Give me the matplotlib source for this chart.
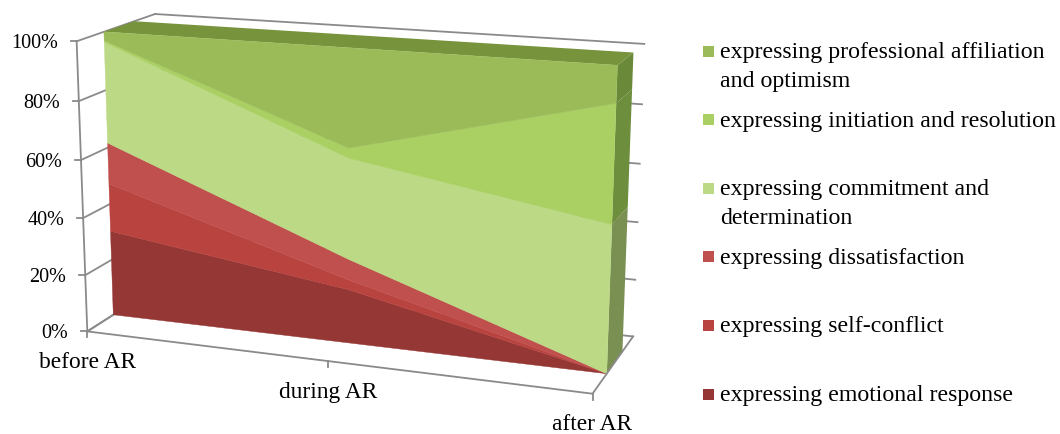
import numpy as np
import matplotlib
matplotlib.use("Agg")
import matplotlib.pyplot as plt
from matplotlib.patches import Polygon, Rectangle

plt.rcParams['font.family'] = ['Liberation Serif', 'DejaVu Serif']

# data (percent of each category, stacked to 100%)
categories = ["before AR", "during AR", "after AR"]
series_names = ["expressing emotional response",
                "expressing self-conflict",
                "expressing dissatisfaction",
                "expressing commitment and\ndetermination",
                "expressing initiation and resolution",
                "expressing professional affiliation\nand optimism"]
emotional = [30.3, 18.6, 0.0]
self_conflict = [16.9, 3.4, 0.0]
dissatisfaction = [14.4, 7.1, 0.0]
commitment = [34.9, 34.4, 49.4]
initiation = [0.5, 3.4, 38.7]
professional = [3.0, 33.1, 11.9]
y_ticks = [0, 20, 40, 60, 80, 100]

front_colors = ["#953735", "#B9433F", "#C0504D", "#BCD985", "#AACF62", "#9BBB59"]
side_colors = ["#6E2826", "#883230", "#8D3B39", "#7A8F52", "#6D8E3C", "#6A8A3A"]
top_color = "#77933C"
line_color = "#8A8A8A"

# ---- perspective of the 3d box (x: category 0..2, y: share 0..1, z: depth 0..1)
A_FRONT, A_BACK = 0.33, 0.72   # depth of the area slab inside the box
calib = [((0, 0, 0), (89, 332)), ((0, 1, 0), (77, 42)), ((1, 0, 0), (329, 364)),
         ((2, 0, 0), (593, 393)), ((0, 1, 1), (157, 15)), ((2, 1, 1), (645, 45)),
         ((2, 0, 1), (633, 337)),
         ((0, 1, A_FRONT), (103, 32)), ((0, 0, A_FRONT), (112, 315)),
         ((2, 0, A_FRONT), (607, 375)), ((2, 1, A_FRONT), (617, 67)),
         ((1, 0, A_FRONT), (347, 345)),
         ((0, 1, A_BACK), (133, 23)), ((2, 1, A_BACK), (633, 53))]


def fit_camera(pairs):
    im = np.array([p[1] for p in pairs], float)
    c = im.mean(0)
    s = im.std()
    rows = []
    for (X, Y, Z), (u, v) in zip([p[0] for p in pairs], (im - c) / s):
        q = [X, Y, Z, 1.0]
        rows.append(q + [0] * 4 + [-u * t for t in q])
        rows.append([0] * 4 + q + [-v * t for t in q])
    _, _, vt = np.linalg.svd(np.array(rows))
    return vt[-1].reshape(3, 4), c, s


P, cen, scl = fit_camera(calib)


def proj(X, Y, Z):
    X, Y, Z = np.broadcast_arrays(np.asarray(X, float), np.asarray(Y, float), np.asarray(Z, float))
    h = P @ np.vstack([X.ravel(), Y.ravel(), Z.ravel(), np.ones(X.size)])
    return np.column_stack([h[0] / h[2], h[1] / h[2]]) * scl + cen


fig = plt.figure(figsize=(10.6, 4.35), dpi=100)
ax = fig.add_axes([0, 0, 1, 1])
ax.set_xlim(0, 1060)
ax.set_ylim(435, 0)
ax.axis("off")

xs = np.arange(len(categories))
vals = np.array([emotional, self_conflict, dissatisfaction, commitment, initiation, professional])
cum = np.vstack([np.zeros(len(categories)), np.cumsum(vals, axis=0) / vals.sum(axis=0)])
lw = 1.3

# walls: gridlines on side wall and back wall
for t in y_ticks:
    y = t / 100
    ax.plot(*proj([0, 0], [y, y], [0, 1]).T, color=line_color, lw=lw, zorder=1)
    ax.plot(*proj([0, 2], [y, y], [1, 1]).T, color=line_color, lw=lw, zorder=1)
    p = proj(0, y, 0)[0]
    ax.plot([p[0] - 6, p[0]], [p[1], p[1]], color=line_color, lw=lw, zorder=1)
    ax.text(p[0] - 19, p[1] + 1, f"{t}%", ha="right", va="center", fontsize=14.5)
ax.plot(*proj([0, 0], [0, 1], [0, 0]).T, color=line_color, lw=lw, zorder=1)
ax.plot(*proj([0, 0], [0, 0], [0, 1]).T, color=line_color, lw=lw, zorder=1)

# area slab: top, right side and front face
top = np.vstack([proj(xs, 1, A_FRONT), proj(xs[::-1], 1, A_BACK)])
ax.add_patch(Polygon(top, closed=True, fc=top_color, ec="none", zorder=2))
for i in range(len(series_names)):
    lo, hi = cum[i], cum[i + 1]
    side = proj([2, 2, 2, 2], [lo[-1], hi[-1], hi[-1], lo[-1]],
                [A_FRONT, A_FRONT, A_BACK, A_BACK])
    ax.add_patch(Polygon(side, closed=True, fc=side_colors[i], ec="none", zorder=2))
    front = np.vstack([proj(xs, hi, A_FRONT), proj(xs[::-1], lo[::-1], A_FRONT)])
    ax.add_patch(Polygon(front, closed=True, fc=front_colors[i], ec=front_colors[i],
                         lw=0.3, zorder=3))

# floor edges in front
ax.plot(*proj([0, 2], [0, 0], [0, 0]).T, color=line_color, lw=lw, zorder=4)
ax.plot(*proj([2, 2], [0, 0], [0, 1]).T, color=line_color, lw=lw, zorder=4)
for x, name in zip(xs, categories):
    p = proj(x, 0, 0)[0]
    ax.plot([p[0], p[0]], [p[1], p[1] + 6], color=line_color, lw=lw, zorder=4)
    ax.text(p[0], p[1] + 30, name, ha="center", va="center", fontsize=16.8)

# legend
for k, i in enumerate(range(len(series_names) - 1, -1, -1)):
    yc = 52 + k * 68.6
    ax.add_patch(Rectangle((703, yc - 5.5), 11, 11, fc=front_colors[i], ec="none"))
    for j, line in enumerate(series_names[i].split("\n")):
        ax.text(720, yc + 6 + j * 28.5, line, ha="left", va="baseline", fontsize=17.2)

fig.savefig("out.png", dpi=100)
